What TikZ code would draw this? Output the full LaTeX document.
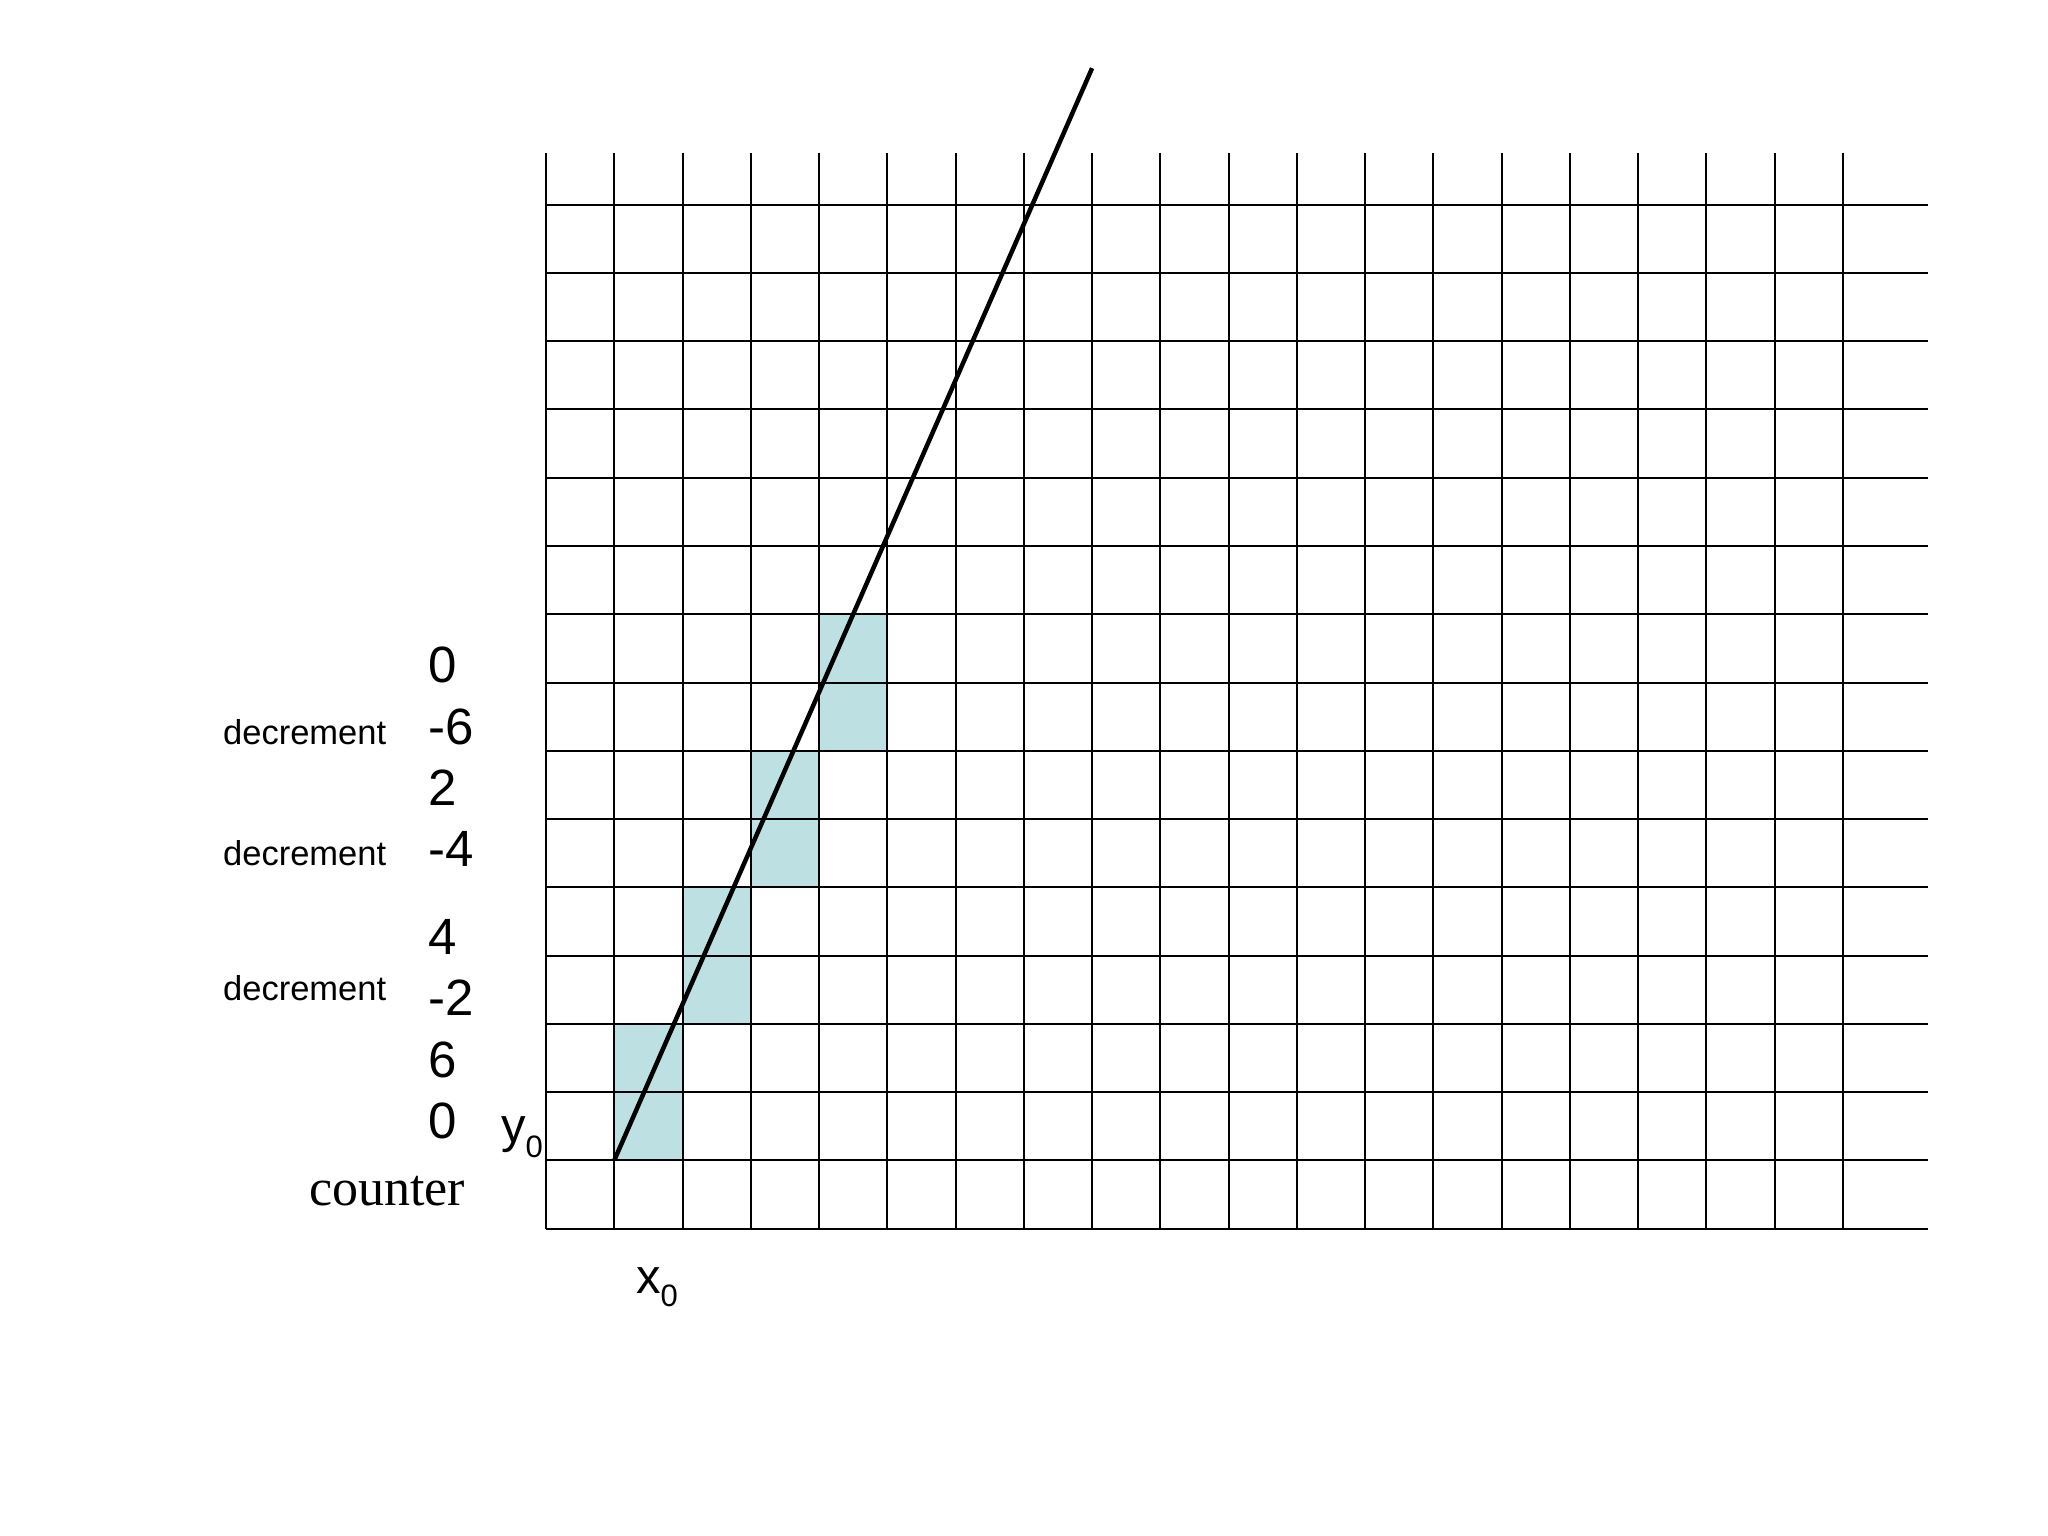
\documentclass[tikz,border=0pt]{standalone}
\usepackage{fontspec}
\setmainfont{Liberation Sans}
\newfontfamily\timesfont{Liberation Serif}
\definecolor{cellfill}{RGB}{189,224,226}
\begin{document}
\begin{tikzpicture}[x=1pt,y=-1pt,
  gridline/.style={line width=2pt,black},
  numlabel/.style={anchor=base west,inner sep=0pt,font=\fontsize{51}{60}\selectfont},
  declabel/.style={anchor=base west,inner sep=0pt,font=\fontsize{34.5}{42}\selectfont},
  sublabel/.style={anchor=base west,inner sep=0pt,font=\fontsize{49}{58}\selectfont},
  serlabel/.style={anchor=base west,inner sep=0pt,font=\timesfont\fontsize{52}{62}\selectfont},
  diag/.style={line width=4.5pt,black}]
\useasboundingbox (0,0) rectangle (2048,1536);
\def\X{546}
\def\Y{204.7}
\def\S{68.26}
% filled cells
\foreach \c/\r in {1/12,1/13,2/10,2/11,3/8,3/9,4/6,4/7} {
  \fill[cellfill] ({\X+\c*\S},{\Y+\r*\S}) rectangle ({\X+(\c+1)*\S},{\Y+(\r+1)*\S});
}
% grid
\foreach \i in {0,...,19} {
  \draw[gridline] ({\X+\i*\S},153) -- ({\X+\i*\S},{\Y+15*\S});
}
\foreach \j in {0,...,15} {
  \draw[gridline] (\X,{\Y+\j*\S}) -- (1928,{\Y+\j*\S});
}
% line
\coordinate (p0) at ({\X+\S},{\Y+14*\S});
\coordinate (p1) at ({\X+8*\S},{\Y-2*\S});
\draw[diag] (p0) -- (p1);
% counter values
\node[numlabel] (n1) at (428,682.5) {0};
\node[numlabel] (n2) at (428,744) {-6};
\node[numlabel] (n3) at (428,805.5) {2};
\node[numlabel] (n4) at (428,866.5) {-4};
\node[numlabel] (n5) at (428,954.5) {4};
\node[numlabel] (n6) at (428,1015.5) {-2};
\node[numlabel] (n7) at (428,1077) {6};
\node[numlabel] (n8) at (428,1138.5) {0};
% decrement labels
\node[declabel] (d1) at (223,744.5) {decrement};
\node[declabel] (d2) at (223,865) {decrement};
\node[declabel] (d3) at (223,1000.5) {decrement};
% other labels
\node[serlabel] (cnt) at (309,1205) {counter};
\node[sublabel] (y0) at (501,1142) {y\raisebox{-15pt}{\fontsize{31}{37}\selectfont 0}};
\node[sublabel] (x0) at (636,1293) {x\raisebox{-13pt}{\fontsize{31}{37}\selectfont 0}};
\end{tikzpicture}
\end{document}
